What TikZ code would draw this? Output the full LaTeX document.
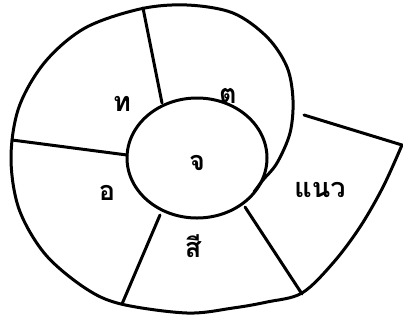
\documentclass[tikz,border=0pt]{standalone}
\usepackage{fontspec}
\newfontfamily\thaifont[Script=Thai]{Loma}
\begin{document}
\begin{tikzpicture}[x=1pt,y=-1pt, line cap=round, line join=round,
  ink/.style={line width=3pt, black},
  lbl/.style={font=\thaifont\bfseries\fontsize{27}{30}\selectfont, inner sep=0pt}]
\useasboundingbox (0,0) rectangle (403,325);
% inner whorl
\draw[ink] (197,158) ellipse [x radius=70pt, y radius=60pt];
% outer spiral
\draw[ink] plot[smooth, tension=0.55] coordinates {(402,145) (383,187) (360,227) (333,263) (302,293) (267,302) (233,308) (187,313) (121,304) (85,288) (45,254) (19,209) (11,158) (19,107) (45,62) (85,28) (140,9) (187,5) (233,13) (267,37) (287,67) (293,100) (290,133) (277,163) (263,180) (254,192)};
% radial partitions
\coordinate (t1) at (143,8);   \coordinate (t2) at (162,103);
\coordinate (l1) at (12,140);  \coordinate (l2) at (127,155);
\coordinate (b1) at (160,215); \coordinate (b2) at (122,304);
\coordinate (r1) at (245,207); \coordinate (r2) at (302,294);
\coordinate (s1) at (304,115); \coordinate (s2) at (402,145);
\draw[ink] (t1) -- (t2);
\draw[ink] (l1) -- (l2);
\draw[ink] (b1) -- (b2);
\draw[ink] (r1) -- (r2);
\draw[ink] (s1) -- (s2);
% labels
\node[lbl] (th) at (122,104) {ท};
\node[lbl] (to) at (228,96) {ต};
\node[lbl] (jo) at (197,163) {จ};
\node[lbl] (oo) at (107,193) {อ};
\node[lbl] (si) at (193,246) {สี};
\node[lbl] (nw) at (320,190) {แนว};
\end{tikzpicture}
\end{document}
